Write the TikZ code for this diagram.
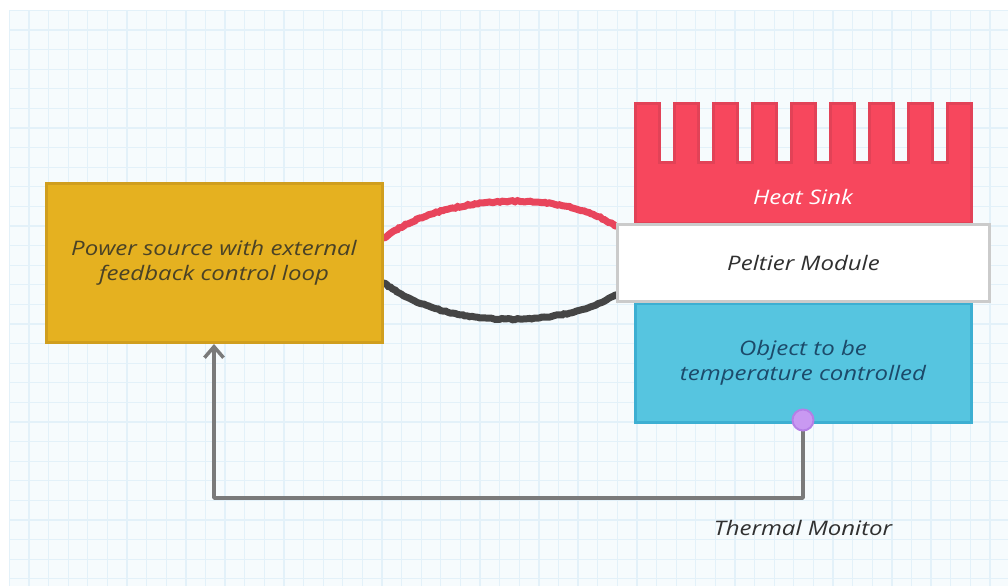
\documentclass[tikz,border=0pt]{standalone}
\usepackage{fontspec}
\setmainfont{Open Sans}[FakeStretch=1.2]
\usetikzlibrary{arrows.meta,calc,decorations.pathmorphing}
\pgfdeclarelayer{gridlayer}
\pgfdeclarelayer{wirelayer}
\pgfsetlayers{gridlayer,wirelayer,main}
\definecolor{gridbg}{HTML}{F6FBFD}
\definecolor{gridln}{HTML}{E3F1F9}
\definecolor{goldfill}{HTML}{E5B120}
\definecolor{golddraw}{HTML}{D09E1E}
\definecolor{goldtext}{HTML}{4A4226}
\definecolor{redfill}{HTML}{F7475D}
\definecolor{reddraw}{HTML}{E24257}
\definecolor{bluefill}{HTML}{56C5E0}
\definecolor{bluedraw}{HTML}{3DAFD2}
\definecolor{bluetext}{HTML}{1C4A6A}
\definecolor{peltdraw}{HTML}{CBCBCB}
\definecolor{wirered}{HTML}{E8455C}
\definecolor{wireblack}{HTML}{454545}
\definecolor{fbgray}{HTML}{7A7A7A}
\definecolor{dotfill}{HTML}{C999F2}
\definecolor{dotdraw}{HTML}{B57FE6}
\definecolor{darktext}{HTML}{303030}
\begin{document}
\begin{tikzpicture}[x=1pt,y=-1pt,
  handfont/.style={font=\itshape\fontsize{20}{25}\selectfont},
  handbox/.style={rectangle, inner sep=0pt, line width=3pt, align=center, handfont},
  rough/.style={decorate, decoration={random steps, segment length=2.5pt, amplitude=0.6pt}},
  wire/.style={line width=7pt, line cap=round, rough},
  fbline/.style={draw=fbgray, line width=3.5pt, line cap=round, line join=round}
]
\useasboundingbox (0,0) rectangle (1008,586);
\begin{pgfonlayer}{gridlayer}
\fill[white] (0,0) rectangle (1008,586);
\fill[gridbg] (9.4,10.4) rectangle (1008,586);
\foreach \i in {0,...,50} {\draw[gridln, line width=1.3pt] ({9.4+19.61*\i},10.4) -- ({9.4+19.61*\i},586);}
\foreach \k in {0,...,29} {\draw[gridln, line width=1.3pt] (9.4,{10.4+19.6*\k}) -- (1008,{10.4+19.6*\k});}
\end{pgfonlayer}

% power source
\node[handbox, fill=goldfill, draw=golddraw, minimum width=336pt, minimum height=159pt, text=goldtext] (power) at (214,263) {Power source with external\\feedback control loop};

% object
\node[handbox, fill=bluefill, draw=bluedraw, minimum width=336pt, minimum height=119pt, text=bluetext] (obj) at (803,362.5) {Object to be\\temperature controlled};

% heat sink
\filldraw[fill=redfill, draw=reddraw, line width=3pt, line join=miter]
 (635,223) -- (635,103) -- (659,103) -- (659,162) -- (674,162) -- (674,103)
 -- (698,103) -- (698,162) -- (713,162) -- (713,103)
 -- (737,103) -- (737,162) -- (752,162) -- (752,103)
 -- (776,103) -- (776,162) -- (791,162) -- (791,103)
 -- (815,103) -- (815,162) -- (830,162) -- (830,103)
 -- (854,103) -- (854,162) -- (869,162) -- (869,103)
 -- (893,103) -- (893,162) -- (908,162) -- (908,103)
 -- (932,103) -- (932,162) -- (947,162) -- (947,103)
 -- (971,103) -- (971,223) -- cycle;
\node[text=white, handfont] (hs) at (803,197) {Heat Sink};

% peltier
\node[handbox, fill=white, draw=peltdraw, minimum width=372pt, minimum height=77pt, text=darktext] (pelt) at (803.5,263) {Peltier Module};

% wires
\coordinate (r1) at ($(power.east)+(1,-25)$);
\coordinate (b1) at ($(power.east)+(1,20)$);
\coordinate (r2) at ($(pelt.west)+(-1,-37)$);
\coordinate (b2) at ($(pelt.west)+(-1,32)$);
\begin{pgfonlayer}{wirelayer}
\draw[wire, draw=wirered] (r1) .. controls (440,195) and (560,188) .. (r2);
\draw[wire, draw=wireblack] (b1) .. controls (440,328) and (560,330) .. (b2);
\end{pgfonlayer}

% thermal monitor and feedback
\node[circle, fill=dotfill, draw=dotdraw, line width=2pt, minimum size=21pt, inner sep=0pt] (tm) at (803,420) {};
\coordinate (bend) at (214,498);
\begin{pgfonlayer}{wirelayer}
\draw[fbline, -{Straight Barb[length=11pt,width=19pt,line width=3.5pt]}] (tm.center) |- (bend) -- (power.south);
\end{pgfonlayer}

\node[text=darktext, handfont] (tmlabel) at (803,528) {Thermal Monitor};
\end{tikzpicture}
\end{document}
